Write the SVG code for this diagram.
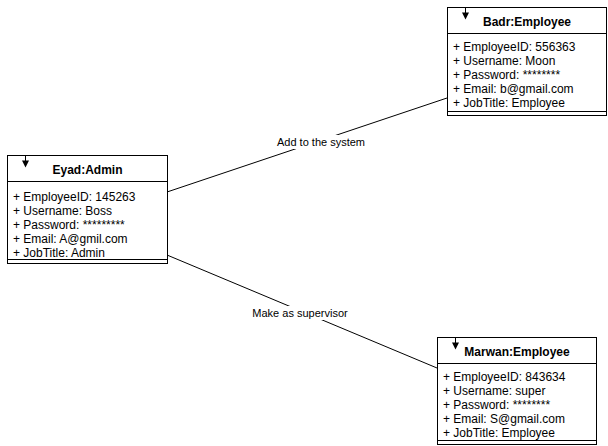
<svg xmlns="http://www.w3.org/2000/svg" width="608" height="446" viewBox="0 0 608 446">
  <style>
    .box { fill: #ffffff; stroke: #000000; stroke-width: 1; }
    .sep { stroke: #000000; stroke-width: 1; fill: none; }
    .title { font-family: "Liberation Sans", Arial, sans-serif; font-size: 12px; font-weight: bold; fill: #000000; text-anchor: middle; }
    .attr { font-family: "Liberation Sans", Arial, sans-serif; font-size: 12px; fill: #000000; }
    .edge { stroke: #000000; stroke-width: 1; fill: none; }
    .label { font-family: "Liberation Sans", Arial, sans-serif; font-size: 11px; fill: #000000; text-anchor: middle; }
  </style>
  <defs>
    <!-- small navigation arrow drawn in the top-left of each object box -->
    <g id="navArrow">
      <line x1="0" y1="0" x2="0" y2="7" class="sep"/>
      <polygon points="-3.5,5 3.5,5 0,12" fill="#000000"/>
    </g>
  </defs>

  <g id="connectors">
    <line class="edge" x1="167" y1="192" x2="447" y2="98"/>
    <rect x="277" y="135" width="88" height="14" fill="#ffffff"/>
    <text class="label" x="321" y="146">Add to the system</text>

    <line class="edge" x1="167" y1="255" x2="437" y2="368"/>
    <rect x="253" y="306" width="95" height="14" fill="#ffffff"/>
    <text class="label" x="300" y="317">Make as supervisor</text>
  </g>

  <g id="eyad-admin">
    <rect class="box" x="7.5" y="155.5" width="160" height="108"/>
    <line class="sep" x1="7.5" y1="181.5" x2="167.5" y2="181.5"/>
    <line class="sep" x1="7.5" y1="259.5" x2="167.5" y2="259.5"/>
    <use href="#navArrow" x="25.5" y="155.5"/>
    <text class="title" x="87.5" y="174">Eyad:Admin</text>
    <text class="attr" x="13" y="201">+ EmployeeID: 145263</text>
    <text class="attr" x="13" y="215">+ Username: Boss</text>
    <text class="attr" x="13" y="229">+ Password: *********</text>
    <text class="attr" x="13" y="243">+ Email: A@gmil.com</text>
    <text class="attr" x="13" y="257">+ JobTitle: Admin</text>
  </g>

  <g id="badr-employee">
    <rect class="box" x="447.5" y="7.5" width="159" height="108"/>
    <line class="sep" x1="447.5" y1="33.5" x2="606.5" y2="33.5"/>
    <line class="sep" x1="447.5" y1="111.5" x2="606.5" y2="111.5"/>
    <use href="#navArrow" x="465.5" y="7.5"/>
    <text class="title" x="527" y="26">Badr:Employee</text>
    <text class="attr" x="453" y="51">+ EmployeeID: 556363</text>
    <text class="attr" x="453" y="65">+ Username: Moon</text>
    <text class="attr" x="453" y="79">+ Password: ********</text>
    <text class="attr" x="453" y="93">+ Email: b@gmail.com</text>
    <text class="attr" x="453" y="107">+ JobTitle: Employee</text>
  </g>

  <g id="marwan-employee">
    <rect class="box" x="437.5" y="337.5" width="159" height="107"/>
    <line class="sep" x1="437.5" y1="363.5" x2="596.5" y2="363.5"/>
    <line class="sep" x1="437.5" y1="440.5" x2="596.5" y2="440.5"/>
    <use href="#navArrow" x="455.5" y="337.5"/>
    <text class="title" x="517" y="356">Marwan:Employee</text>
    <text class="attr" x="443" y="381">+ EmployeeID: 843634</text>
    <text class="attr" x="443" y="395">+ Username: super</text>
    <text class="attr" x="443" y="409">+ Password: ********</text>
    <text class="attr" x="443" y="423">+ Email: S@gmail.com</text>
    <text class="attr" x="443" y="437">+ JobTitle: Employee</text>
  </g>
</svg>
